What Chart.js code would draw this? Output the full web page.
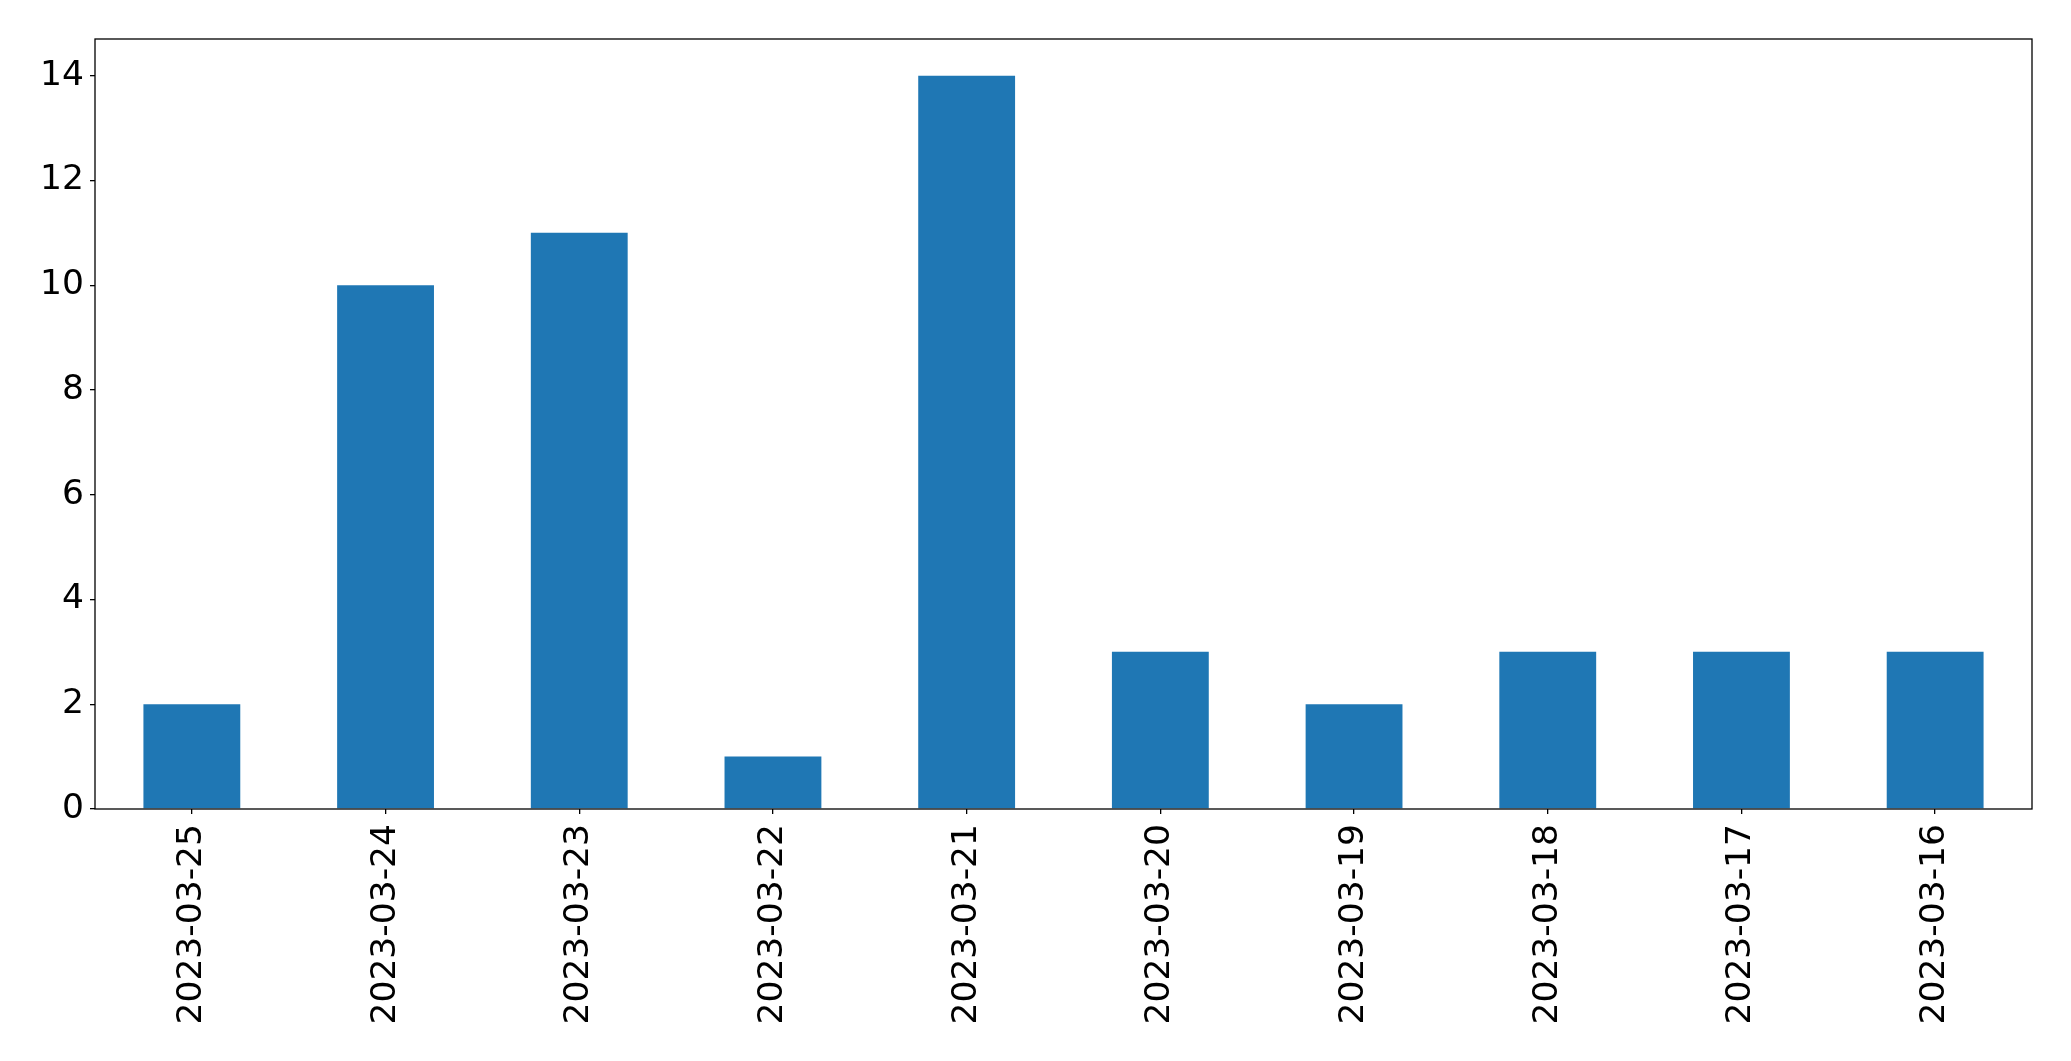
<!DOCTYPE html>
<html>
<head>
<meta charset="utf-8">
<script src="https://cdn.jsdelivr.net/npm/chart.js@4"></script>
<style>
  body { margin: 0; background: #fff; }
  #wrap { width: 2071px; height: 1061px; }
</style>
</head>
<body>
<div id="wrap"><canvas id="barChart" width="2071" height="1061"></canvas></div>
<script>
// data
const dates = [
  "2023-03-25", "2023-03-24", "2023-03-23", "2023-03-22", "2023-03-21",
  "2023-03-20", "2023-03-19", "2023-03-18", "2023-03-17", "2023-03-16",
];
const counts = [2, 10, 11, 1, 14, 3, 2, 3, 3, 3];
const yTicks = [0, 2, 4, 6, 8, 10, 12, 14];

const fontSpec = { family: "DejaVu Sans", size: 34.5 };

// frame around the plot area, like matplotlib's spines
const frame = {
  id: "frame",
  afterDraw(chart) {
    const a = chart.chartArea;
    const ctx = chart.ctx;
    ctx.save();
    ctx.strokeStyle = "#000";
    ctx.lineWidth = 1.3;
    ctx.strokeRect(a.left, a.top, a.right - a.left, a.bottom - a.top);
    ctx.restore();
  },
};

const ctx = document.getElementById("barChart").getContext("2d");
const barChart = new Chart(ctx, {
  type: "bar",
  data: {
    labels: dates,
    datasets: [
      {
        data: counts,
        backgroundColor: "#1f77b4",
        borderWidth: 0,
        barPercentage: 0.5,
        categoryPercentage: 1,
      },
    ],
  },
  options: {
    responsive: false,
    animation: false,
    layout: { padding: { top: 39, right: 39, left: 0, bottom: 0 } },
    scales: {
      x: {
        grid: {
          display: true,
          offset: false,
          drawOnChartArea: false,
          drawTicks: true,
          tickLength: 5,
          tickColor: "#000",
          lineWidth: 1.3,
        },
        border: { display: false },
        ticks: {
          color: "#000",
          font: fontSpec,
          minRotation: 90,
          maxRotation: 90,
          padding: 10,
          autoSkip: false,
        },
        afterFit(scale) {
          scale.height = 252;
        },
      },
      y: {
        min: 0,
        max: 14.7,
        grid: {
          display: true,
          drawOnChartArea: false,
          drawTicks: true,
          tickLength: 5,
          tickColor: "#000",
          lineWidth: 1.3,
        },
        border: { display: false },
        ticks: {
          color: "#000",
          font: fontSpec,
          padding: 6,
        },
        afterBuildTicks(scale) {
          scale.ticks = yTicks.map((v) => ({ value: v }));
        },
        afterFit(scale) {
          scale.width = 95;
        },
      },
    },
    plugins: {
      legend: { display: false },
      tooltip: { enabled: false },
    },
  },
  plugins: [frame],
});
</script>
</body>
</html>
